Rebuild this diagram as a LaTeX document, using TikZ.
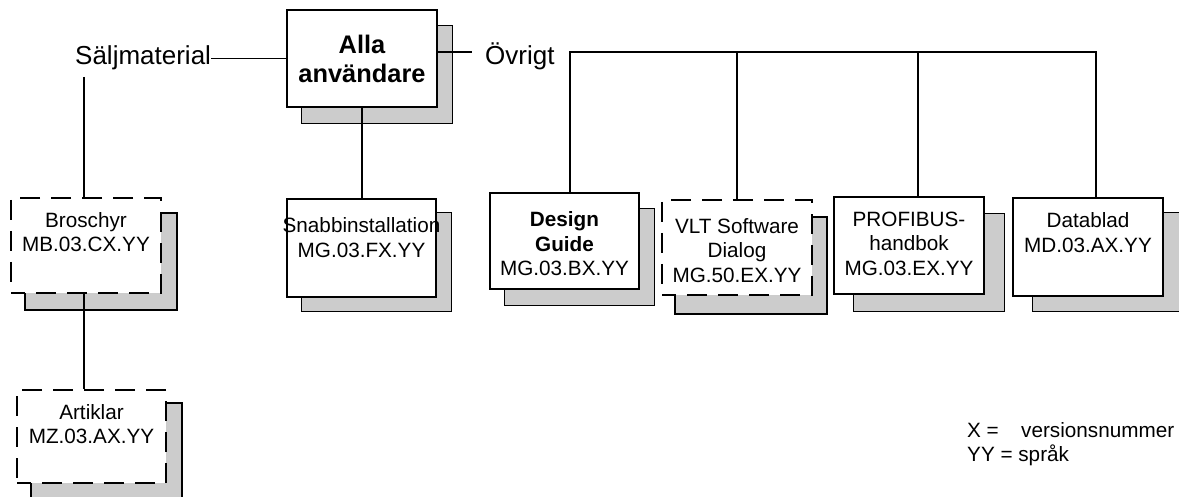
\documentclass[tikz,border=0pt]{standalone}
\usepackage{fontspec}
\setmainfont{Liberation Sans}
\usetikzlibrary{backgrounds,calc}
\tikzset{
  box/.style={draw, line width=1.2pt, fill=white, minimum width=150pt, inner sep=0pt},
  dbox/.style={box, line width=2pt, dash pattern=on 20pt off 11pt, dash phase=6pt},
  txt/.style={font=\fontsize{20.7}{24.5}\selectfont, align=center, inner sep=0pt, anchor=north},
  big/.style={font=\fontsize{26}{30}\selectfont, inner sep=0pt, anchor=base west},
  leg/.style={font=\fontsize{20.7}{24.5}\selectfont, inner sep=0pt, anchor=base west},
  shadowbox/.style={fill=black!20, draw=black, line width=1.2pt},
  conn/.style={line width=1.3pt},
}
\begin{document}
\begin{tikzpicture}[x=1pt,y=-1pt]
\useasboundingbox (0,0) rectangle (1179,497);

% boxes
\node[box, minimum height=97pt, font=\bfseries\fontsize{25.4}{29}\selectfont, align=center] (alla) at (362,58.5) {Alla\\användare};
\node[dbox, minimum height=95pt] (bro) at (86,245.5) {};
\node[dbox, minimum width=149pt, minimum height=93pt] (art) at (91.5,436.5) {};
\node[box, minimum width=149pt, minimum height=98pt] (snab) at (361.5,248) {};
\node[box, minimum width=149pt, minimum height=96pt] (des) at (564.5,241) {};
\node[dbox, minimum height=95pt] (vlt) at (737,247.5) {};
\node[box, minimum height=97pt] (prof) at (909,245.5) {};
\node[box, minimum height=98pt] (data) at (1088,247) {};

% shadows
\begin{scope}[on background layer]
\foreach \n/\dx/\dy in {alla/15/16, bro/15/16, art/15/14, snab/15/14, des/15/16, vlt/14/18, prof/20/17, data/20/15}{
  \draw[shadowbox] ([shift={(\dx,\dy)}]\n.south west) rectangle ([shift={(\dx,\dy)}]\n.north east);
}
\end{scope}

% box texts
\node[txt] (brot) at ([yshift=-15pt]bro.north) {Broschyr\\MB.03.CX.YY};
\node[txt] (artt) at ([yshift=-15pt]art.north) {Artiklar\\MZ.03.AX.YY};
\node[txt] (snabt) at ([yshift=-19pt]snab.north) {Snabbinstallation\\MG.03.FX.YY};
\node[txt] (dest) at ([yshift=-19pt]des.north) {\textbf{Design}\\\textbf{Guide}\\MG.03.BX.YY};
\node[txt] (vltt) at ([yshift=-19pt]vlt.north) {VLT Software\\Dialog\\MG.50.EX.YY};
\node[txt] (proft) at ([yshift=-15pt]prof.north) {PROFIBUS-\\handbok\\MG.03.EX.YY};
\node[txt] (datat) at ([yshift=-15pt]data.north) {Datablad\\MD.03.AX.YY};

% labels
\node[big] (salj) at (75,65) {Säljmaterial};
\node[big] (ovr) at (485,65) {Övrigt};

% legend
\node[leg] (leg1) at (967,437) {X =\hspace{22.4pt}versionsnummer};
\node[leg] (leg2) at (967,461) {YY = språk};

% connector points
\coordinate (sd) at (84,77);
\coordinate (od) at (472,52);
\coordinate (b1) at (570,52);
\coordinate (b2) at (737,52);
\coordinate (b3) at (918,52);
\coordinate (b4) at (1096,52);

% connectors
\draw[conn] (salj.east) -- (salj.east -| alla.west);
\draw[conn] (sd) -- (sd |- bro.north);
\draw[conn] (sd |- bro.south) -- (sd |- art.north);
\draw[conn] (alla.south) -- (alla.south |- snab.north);
\draw[conn] (od -| alla.east) -- (od);
\draw[conn] (b1 |- des.north) -- (b1) -- (b4) -- (b4 |- data.north);
\draw[conn] (b2) -- (b2 |- vlt.north);
\draw[conn] (b3) -- (b3 |- prof.north);
\end{tikzpicture}
\end{document}
